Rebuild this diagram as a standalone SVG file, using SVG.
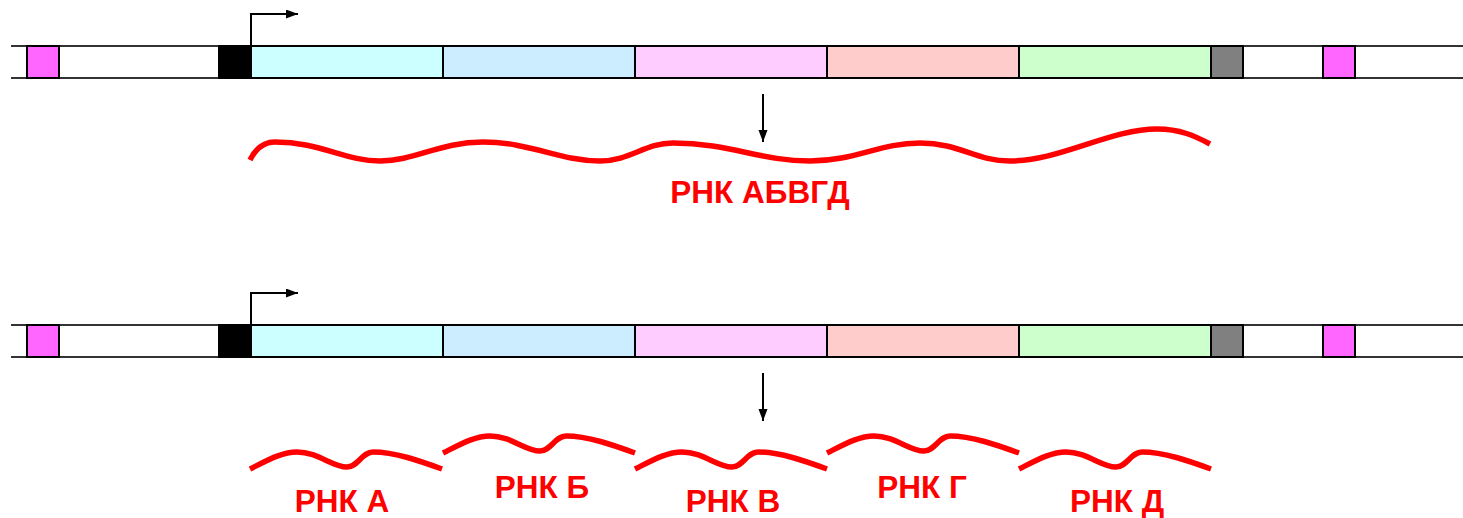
<svg xmlns="http://www.w3.org/2000/svg" xmlns:xlink="http://www.w3.org/1999/xlink" width="1463" height="518" viewBox="0 0 1463 518">
<style>
.rail{stroke:#333;stroke-width:2;fill:none}
.box{stroke:#000;stroke-width:2}
.arr{stroke:#000;stroke-width:2;fill:none}
.rna{stroke:#FF0000;stroke-width:5.5;fill:none;stroke-linecap:butt}
.lbl{font-family:"Liberation Sans",Arial,sans-serif;font-weight:bold;font-size:31.5px;fill:#FF0000;text-anchor:middle}
</style>
<defs>
<marker id="ah" markerUnits="userSpaceOnUse" markerWidth="12" markerHeight="10" refX="12" refY="4.5" orient="auto">
<path d="M0,0 L12,4.5 L0,9 Z" fill="#000"/>
</marker>
<g id="strip">
<line class="rail" x1="11" y1="0" x2="1463" y2="0"/>
<line class="rail" x1="11" y1="32" x2="1463" y2="32"/>
<rect class="box" x="27" y="0" width="32" height="32" fill="#FF66FF"/>
<rect class="box" x="219" y="0" width="32" height="32" fill="#000"/>
<rect class="box" x="251" y="0" width="192" height="32" fill="#CCFFFF"/>
<rect class="box" x="443" y="0" width="192" height="32" fill="#CCECFF"/>
<rect class="box" x="635" y="0" width="192" height="32" fill="#FFCCFF"/>
<rect class="box" x="827" y="0" width="192" height="32" fill="#FFCCCC"/>
<rect class="box" x="1019" y="0" width="192" height="32" fill="#CCFFCC"/>
<rect class="box" x="1211" y="0" width="32" height="32" fill="#808080"/>
<rect class="box" x="1323" y="0" width="32" height="32" fill="#FF66FF"/>
<path class="arr" d="M251,0 V-32 H298" marker-end="url(#ah)"/>
</g>
<path id="seg" class="rna" d="M0,0 C18,-9 32,-17 47,-17 C68,-17 82,-2 97,-2 C108,-2 112,-17 123,-17 C145,-17 170,-8 192,0"/>
</defs>
<g id="gene-top"><use xlink:href="#strip" href="#strip" transform="translate(0,46)"/></g>
<g id="gene-bottom"><use xlink:href="#strip" href="#strip" transform="translate(0,325)"/></g>
<g id="connectors">
<line class="arr" x1="763" y1="94" x2="763" y2="142" marker-end="url(#ah)"/>
<line class="arr" x1="763" y1="373" x2="763" y2="421" marker-end="url(#ah)"/>
</g>
<g id="rna-full">
<path class="rna" d="M250,160 C255,150 262,142 275,142 C320,142 345,161 380,161 C415,161 440,142 483,142 C530,142 560,161 600,161 C630,161 645,143 673,143 C730,143 760,161 810,161 C855,161 880,143 920,143 C960,143 975,161 1010,161 C1060,161 1110,129 1157,129 C1180,129 1195,136 1210,144"/>
<text class="lbl" x="760" y="203">РНК АБВГД</text>
</g>
<g id="rna-a"><use xlink:href="#seg" href="#seg" transform="translate(250,469)"/><text class="lbl" x="342" y="512">РНК А</text></g>
<g id="rna-b"><use xlink:href="#seg" href="#seg" transform="translate(443,453)"/><text class="lbl" x="542" y="498">РНК Б</text></g>
<g id="rna-v"><use xlink:href="#seg" href="#seg" transform="translate(635,469)"/><text class="lbl" x="733" y="512">РНК В</text></g>
<g id="rna-g"><use xlink:href="#seg" href="#seg" transform="translate(827,453)"/><text class="lbl" x="922" y="498">РНК Г</text></g>
<g id="rna-d"><use xlink:href="#seg" href="#seg" transform="translate(1019,469)"/><text class="lbl" x="1117" y="512">РНК Д</text></g>
</svg>
